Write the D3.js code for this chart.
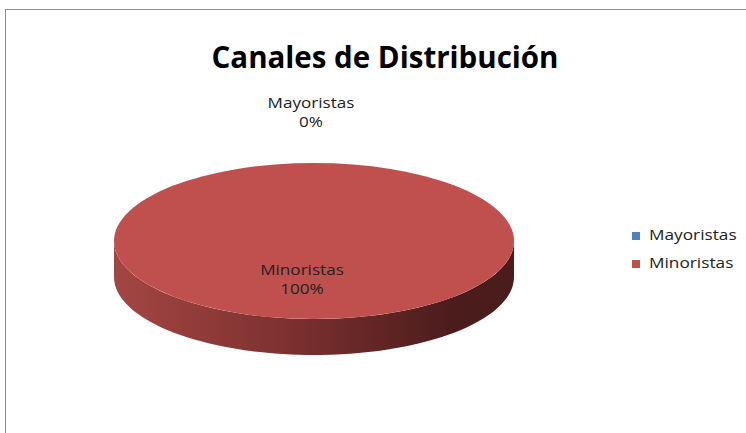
<!DOCTYPE html>
<html>
<head>
<meta charset="utf-8">
<script src="https://cdn.jsdelivr.net/npm/d3@7"></script>
<style>
  body { margin: 0; background: #fff; }
  svg { display: block; }
</style>
</head>
<body>
<div id="chart"></div>
<script>
// data
const categories = ["Mayoristas", "Minoristas"];
const values = [0, 100];
const colors = ["#4f81bd", "#c0504d"];
const chartTitle = "Canales de Distribución";

const width = 746, height = 433;
const cx = 314, cy = 241, rx = 200, ry = 78, depth = 36;
const font = "'Open Sans', Lato, sans-serif";
const sx = 1.15; // source text looks stretched sideways

const svg = d3.select("#chart").append("svg")
    .attr("width", width)
    .attr("height", height);

// chart frame
svg.append("rect")
    .attr("x", 5.5).attr("y", 9.5)
    .attr("width", 760).attr("height", 440)
    .attr("fill", "#fff")
    .attr("stroke", "#8c8c8c")
    .attr("stroke-width", 1);

const defs = svg.append("defs");
const grad = defs.append("linearGradient")
    .attr("id", "sideGrad")
    .attr("x1", "0%").attr("x2", "100%").attr("y1", "0%").attr("y2", "0%");
grad.append("stop").attr("offset", "0%").attr("stop-color", "#a34643");
grad.append("stop").attr("offset", "45%").attr("stop-color", "#7b302f");
grad.append("stop").attr("offset", "85%").attr("stop-color", "#4b1c1c");
grad.append("stop").attr("offset", "100%").attr("stop-color", "#4a1c1c");

const total = d3.sum(values);
const table = categories.map((c, i) => ({ name: c, value: values[i], color: colors[i] }));

const pie = d3.pie().value(d => d.value).sort(null);
const arcs = pie(table);

const g = svg.append("g");

// point on ellipse for a d3 angle (0 = top, clockwise)
function pt(a, dy) {
    return [cx + rx * Math.sin(a), cy - ry * Math.cos(a) + (dy || 0)];
}

// front side walls (angles between pi/2 and 3pi/2 are visible)
arcs.forEach(d => {
    const a0 = Math.max(d.startAngle, Math.PI / 2);
    const a1 = Math.min(d.endAngle, 3 * Math.PI / 2);
    if (a1 <= a0) return;
    const steps = 80;
    const top = d3.range(steps + 1).map(k => pt(a0 + (a1 - a0) * k / steps));
    const bot = top.map(p => [p[0], p[1] + depth]).reverse();
    g.append("path")
        .attr("d", d3.line()(top.concat(bot)) + "Z")
        .attr("fill", "url(#sideGrad)");
});

// top faces
const arc = d3.arc().innerRadius(0).outerRadius(rx);
g.selectAll(".slice")
    .data(arcs.filter(d => d.value > 0))
    .enter().append("path")
    .attr("class", "slice")
    .attr("d", arc)
    .attr("transform", "translate(" + cx + "," + cy + ") scale(1," + (ry / rx) + ")")
    .attr("fill", d => d.data.color);

// data labels
const inner = d3.arc().innerRadius(0).outerRadius(rx);
const labels = svg.append("g")
    .attr("font-family", font)
    .attr("font-size", 14.5)
    .attr("fill", "#222")
    .attr("text-anchor", "middle");

arcs.forEach(d => {
    let x, y;
    if (d.value > 0) {
        const c = inner.centroid(d);
        x = cx + c[0] - 12;
        y = cy + c[1] * ry / rx - 5;
    } else {
        const a = (d.startAngle + d.endAngle) / 2;
        x = cx + rx * Math.sin(a) - 3;
        y = cy - 1.71 * rx * Math.cos(a) * ry / rx;
    }
    const pct = Math.round(d.value / total * 100) + "%";
    const lg = labels.append("g")
        .attr("transform", "translate(" + x + "," + y + ") scale(" + (sx + 0.03) + ",1)");
    lg.append("text").attr("y", 0).text(d.data.name);
    lg.append("text").attr("y", 19).text(pct);
});

// title
svg.append("text")
    .attr("x", 385).attr("y", 68)
    .attr("text-anchor", "middle")
    .attr("font-family", font)
    .attr("font-weight", "bold")
    .attr("font-size", 29.5)
    .attr("fill", "#000")
    .text(chartTitle);

// legend
const legend = svg.append("g")
    .attr("transform", "translate(632,231)");
const item = legend.selectAll("g")
    .data(table)
    .enter().append("g")
    .attr("transform", (d, i) => "translate(0," + i * 28 + ")");
item.append("rect")
    .attr("width", 8).attr("height", 8)
    .attr("y", 1)
    .attr("fill", d => d.color);
item.append("text")
    .attr("transform", "translate(17,9) scale(" + sx + ",1)")
    .attr("font-family", font)
    .attr("font-size", 15)
    .attr("fill", "#222")
    .text(d => d.name);
</script>
</body>
</html>
